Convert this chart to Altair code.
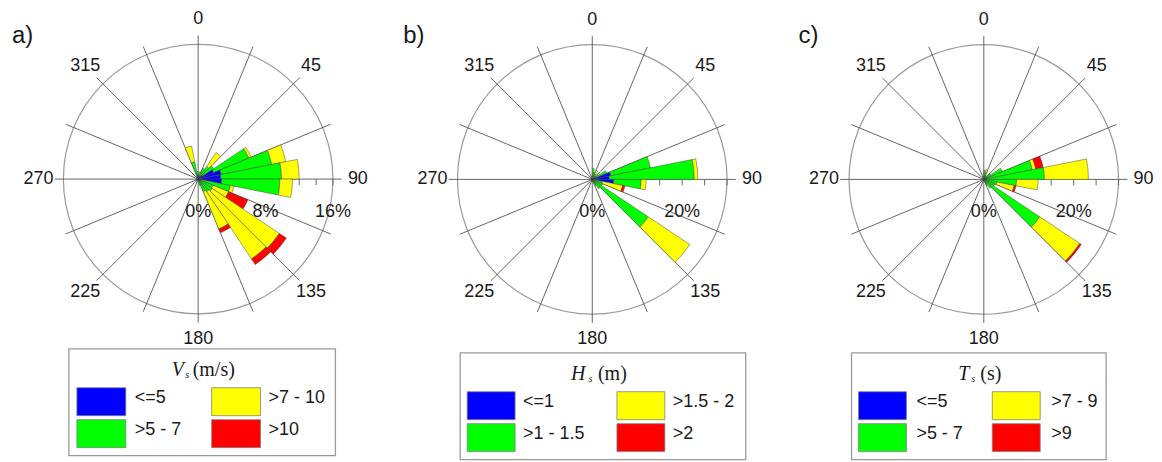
import math
import altair as alt
import pandas as pd

# ---------------- data ----------------
N_SECTORS = 32                      # 11.25 degree direction sectors
SECTOR_DEG = 360 / N_SECTORS
SPOKE_ANGLES = [i * 22.5 for i in range(16)]
DIR_LABELS = [0, 45, 90, 135, 180, 225, 270, 315]
COLORS = ["#0000ff", "#00ff00", "#ffff00", "#ff0000"]

# Panel a: wind speed Vs (m/s) - frequency (%) per sector, one list per class
a_classes = ["<=5", ">5 - 7", ">7 - 10", ">10"]
a_c1 = [0.1, 0.2, 0.3, 0.4, 0.6, 2.0, 2.8, 2.7, 2.8, 0.4, 0.3, 0.3, 0.3, 0.2, 0.2, 0.1,
        0.1, 0.1, 0.1, 0.1, 0.1, 0.1, 0.1, 0.1, 0.1, 0.1, 0.1, 0.1, 0.1, 0.1, 0.4, 0.5]
a_c2 = [0.2, 0.7, 1.1, 1.4, 1.6, 4.5, 6.1, 7.2, 6.9, 3.5, 1.6, 1.7, 1.5, 1.4, 0.6, 0.2,
        0.1, 0.1, 0.1, 0.1, 0.1, 0.1, 0.1, 0.1, 0.1, 0.1, 0.1, 0.1, 0.1, 0.1, 1.7, 0.4]
a_c3 = [0.0, 0.0, 0.0, 2.0, 0.0, 0.3, 1.7, 2.1, 1.5, 0.4, 2.0, 9.6, 9.6, 4.8, 0.0, 0.0,
        0.0, 0.0, 0.0, 0.0, 0.0, 0.0, 0.0, 0.0, 0.0, 0.0, 0.0, 0.0, 0.0, 0.0, 1.9, 0.0]
a_c4 = [0.0, 0.0, 0.0, 0.0, 0.0, 0.0, 0.0, 0.0, 0.0, 0.0, 2.5, 1.0, 0.8, 0.5, 0.0, 0.0,
        0.0, 0.0, 0.0, 0.0, 0.0, 0.0, 0.0, 0.0, 0.0, 0.0, 0.0, 0.0, 0.0, 0.0, 0.0, 0.0]
a_ticks = [2, 4, 6, 8, 10, 12, 14, 16]
a_pct = [0, 8, 16]
a_pct_text = ["0%", "8%", "16%"]

# Panel b: wave height Hs (m)
b_classes = ["<=1", ">1 - 1.5", ">1.5 - 2", ">2"]
b_c1 = [0.3, 0.3, 0.3, 0.2, 0.3, 0.8, 4.2, 3.8, 4.8, 0.5, 0.4, 0.5, 0.3, 0.2, 0.2, 0.1,
        0.1, 0.1, 0.1, 0.1, 0.1, 0.1, 0.1, 0.1, 0.1, 0.1, 0.1, 0.1, 0.1, 0.1, 0.2, 0.2]
b_c2 = [2.1, 1.3, 1.0, 0.6, 1.2, 2.7, 9.0, 18.9, 6.1, 1.8, 2.1, 14.5, 2.2, 1.3, 0.4, 0.2,
        0.1, 0.1, 0.1, 0.1, 0.1, 0.1, 0.1, 0.1, 0.1, 0.1, 0.1, 0.1, 0.1, 0.1, 0.3, 0.6]
b_c3 = [0.0, 0.0, 0.9, 0.0, 0.0, 0.0, 0.0, 0.8, 1.1, 4.6, 0.0, 11.1, 0.0, 0.0, 0.0, 0.0,
        0.0, 0.0, 0.0, 0.0, 0.0, 0.0, 0.0, 0.0, 0.0, 0.0, 0.0, 0.0, 0.0, 0.0, 0.0, 0.0]
b_c4 = [0.0, 0.0, 0.0, 0.0, 0.0, 0.0, 0.0, 0.0, 0.0, 0.5, 0.0, 0.0, 0.0, 0.0, 0.0, 0.0,
        0.0, 0.0, 0.0, 0.0, 0.0, 0.0, 0.0, 0.0, 0.0, 0.0, 0.0, 0.0, 0.0, 0.0, 0.0, 0.0]
b_ticks = [5, 10, 15, 20, 25, 30]
b_pct = [0, 20]
b_pct_text = ["0%", "20%"]

# Panel c: wave period Ts (s)
c_classes = ["<=5", ">5 - 7", ">7 - 9", ">9"]
c_c1 = [0.2, 0.2, 0.2, 0.2, 0.2, 0.4, 0.6, 0.6, 0.5, 0.3, 0.2, 0.4, 0.2, 0.2, 0.1, 0.1,
        0.05, 0.05, 0.05, 0.05, 0.05, 0.05, 0.05, 0.05, 0.05, 0.05, 0.05, 0.05, 0.05, 0.05, 0.1, 0.2]
c_c2 = [1.8, 1.3, 0.8, 0.6, 1.6, 4.1, 10.4, 12.9, 6.8, 2.7, 2.4, 14.6, 2.2, 1.3, 0.5, 0.2,
        0.15, 0.15, 0.15, 0.15, 0.15, 0.15, 0.15, 0.15, 0.15, 0.15, 0.15, 0.15, 0.15, 0.15, 0.4, 0.6]
c_c3 = [0.0, 0.7, 0.0, 0.0, 0.0, 0.0, 0.8, 9.8, 4.8, 3.9, 0.0, 10.7, 0.0, 0.0, 0.0, 0.0,
        0.0, 0.0, 0.0, 0.0, 0.0, 0.0, 0.0, 0.0, 0.0, 0.0, 0.0, 0.0, 0.0, 0.0, 0.0, 0.0]
c_c4 = [0.0, 0.0, 0.0, 0.0, 0.0, 0.0, 1.7, 0.0, 0.0, 0.4, 0.0, 0.4, 0.0, 0.0, 0.0, 0.0,
        0.0, 0.0, 0.0, 0.0, 0.0, 0.0, 0.0, 0.0, 0.0, 0.0, 0.0, 0.0, 0.0, 0.0, 0.0, 0.0]
c_ticks = [5, 10, 15, 20, 25, 30]
c_pct = [0, 20]
c_pct_text = ["0%", "20%"]

# ---------------- layout / style ----------------
SANS = "Liberation Sans"
SERIF = "Liberation Serif"
TXT = "#1a1a1a"
H = 452
R_PX = 135

LAYOUT = {
    "a": dict(W=394, cx=190.5, cy=171.0, rmax=16, label="a)", label_x=4,
              title=("V", "(m/s)"), title_x=(164, 177.5, 185), title_y=368,
              box=(61, 341, 328, 448), sw_x=(69, 204), sw_y=(380, 412), sw_w=49, sw_h=28,
              lab_x=(127, 261)),
    "b": dict(W=394, cx=191.3, cy=171.3, rmax=30, label="b)", label_x=2,
              title=("H", "(m)"), title_x=(170, 187.5, 197), title_y=372,
              box=(59, 345, 345, 452), sw_x=(66, 216), sw_y=(384, 416), sw_w=48, sw_h=28,
              lab_x=(122, 272)),
    "c": dict(W=358, cx=189.5, cy=171.3, rmax=30, label="c)", label_x=4,
              title=("T", "(s)"), title_x=(164, 177, 186), title_y=372,
              box=(57, 345, 312, 452), sw_x=(64, 198), sw_y=(384, 416), sw_w=48, sw_h=28,
              lab_x=(122, 257)),
}

fill_scale = alt.Scale(domain=[0, 1, 2, 3], range=COLORS)


def build_panel(key, series, classes, ticks, pct_vals, pct_text):
    L = LAYOUT[key]
    W, rmax = L["W"], L["rmax"]
    ppu = R_PX / rmax
    xs = alt.Scale(domain=[-L["cx"] / ppu, (W - L["cx"]) / ppu], nice=False, zero=False)
    ys = alt.Scale(domain=[-(H - L["cy"]) / ppu, L["cy"] / ppu], nice=False, zero=False)
    ts = alt.Scale(domain=[0, 360], range=[0, 2 * math.pi])
    rs = alt.Scale(type="linear", domain=[0, rmax], range=[0, R_PX], zero=True, nice=False)

    X0 = alt.X("zero:Q", scale=xs, axis=None)
    Y0 = alt.Y("zero:Q", scale=ys, axis=None)

    # stacked sector table
    rows = []
    for k in range(N_SECTORS):
        cum = 0.0
        for c, s in enumerate(series):
            v = s[k]
            if v > 0:
                rows.append(dict(t0=k * SECTOR_DEG, t1=(k + 1) * SECTOR_DEG,
                                 r0=cum, r1=cum + v, cls=c, zero=0))
                cum += v
    bars_df = pd.DataFrame(rows)

    arc_enc = dict(
        x=X0, y=Y0,
        theta=alt.Theta("t0:Q", scale=ts, stack=False),
        theta2="t1:Q",
        radius=alt.Radius("r1:Q", scale=rs, stack=False),
        radius2="r0:Q",
    )

    circle = alt.Chart(pd.DataFrame([dict(t0=0, t1=360, r0=0, r1=rmax, zero=0)])).mark_arc(
        fill="white", stroke="#9a9a9a", strokeWidth=1.2).encode(**arc_enc)

    spoke_len = rmax * 1.065
    spokes = alt.Chart(pd.DataFrame({"a": SPOKE_ANGLES, "zero": 0})).transform_calculate(
        ex=f"{spoke_len}*sin(datum.a*PI/180)", ey=f"{spoke_len}*cos(datum.a*PI/180)"
    ).mark_rule(color="#555555", strokeWidth=0.9).encode(x=X0, y=Y0, x2="ex:Q", y2="ey:Q")

    tick_layer = alt.Chart(pd.DataFrame({"t": ticks, "zero": 0})).mark_rule(
        color="#666666", strokeWidth=1, y2Offset=6).encode(
        x=alt.X("t:Q", scale=xs, axis=None), y=Y0, y2="zero:Q")

    bars = alt.Chart(bars_df).mark_arc(stroke="#444444", strokeWidth=0.5).encode(
        fill=alt.Fill("cls:N", scale=fill_scale, legend=None), **arc_enc)

    pct = alt.Chart(pd.DataFrame({"v": pct_vals, "lab": pct_text, "zero": 0})).mark_text(
        dy=33, fontSize=18, font=SANS, color=TXT).encode(
        x=alt.X("v:Q", scale=xs, axis=None), y=Y0, text="lab:N")

    lab_r = rmax * 1.185
    dirs = alt.Chart(pd.DataFrame({"a": DIR_LABELS, "lab": [str(d) for d in DIR_LABELS]})).transform_calculate(
        lx=f"{lab_r}*sin(datum.a*PI/180)", ly=f"{lab_r}*cos(datum.a*PI/180)"
    ).mark_text(fontSize=18, font=SANS, color=TXT, baseline="middle").encode(
        x=alt.X("lx:Q", scale=xs, axis=None), y=alt.Y("ly:Q", scale=ys, axis=None), text="lab:N")

    rose = alt.layer(circle, spokes, tick_layer, bars, pct, dirs)

    # ----- overlay in panel pixel frame: legend + panel label -----
    pxs = alt.Scale(domain=[0, W], nice=False, zero=False)
    pys = alt.Scale(domain=[0, H], reverse=True, nice=False, zero=False)
    PX = lambda f: alt.X(f, scale=pxs, axis=None)
    PY = lambda f: alt.Y(f, scale=pys, axis=None)

    bx0, by0, bx1, by1 = L["box"]
    frame = alt.Chart(pd.DataFrame([dict(x0=bx0, y0=by0, x1=bx1, y1=by1)])).mark_rect(
        fill="white", stroke="#9a9a9a", strokeWidth=1.3).encode(
        x=PX("x0:Q"), x2="x1:Q", y=PY("y0:Q"), y2="y1:Q")

    leg_rows = []
    for i, name in enumerate(classes):
        col, row = i // 2, i % 2
        sx, sy = L["sw_x"][col], L["sw_y"][row]
        leg_rows.append(dict(cls=i, name=name, sx=sx, sx2=sx + L["sw_w"], sy=sy,
                             sy2=sy + L["sw_h"], lx=L["lab_x"][col], ly=sy + 10))
    leg_df = pd.DataFrame(leg_rows)
    swatches = alt.Chart(leg_df).mark_rect(stroke="#808080", strokeWidth=0.8).encode(
        x=PX("sx:Q"), x2="sx2:Q", y=PY("sy:Q"), y2="sy2:Q",
        fill=alt.Fill("cls:N", scale=fill_scale, legend=None))
    leg_labels = alt.Chart(leg_df).mark_text(
        align="left", baseline="middle", fontSize=18, font=SANS, color=TXT).encode(
        x=PX("lx:Q"), y=PY("ly:Q"), text="name:N")

    t_main, t_unit = L["title"]
    tx = L["title_x"]
    ty = L["title_y"]
    tdf = pd.DataFrame([dict(main=t_main, sub="s", unit=t_unit,
                             x1=tx[0], x2=tx[1], x3=tx[2], y=ty, ys=ty + 2)])
    title_main = alt.Chart(tdf).mark_text(
        align="left", baseline="alphabetic", fontSize=20, font=SERIF, fontStyle="italic",
        color=TXT).encode(x=PX("x1:Q"), y=PY("y:Q"), text="main:N")
    title_sub = alt.Chart(tdf).mark_text(
        align="left", baseline="alphabetic", fontSize=10, font=SERIF, fontStyle="italic",
        color=TXT).encode(x=PX("x2:Q"), y=PY("ys:Q"), text="sub:N")
    title_unit = alt.Chart(tdf).mark_text(
        align="left", baseline="alphabetic", fontSize=20, font=SERIF,
        color=TXT).encode(x=PX("x3:Q"), y=PY("y:Q"), text="unit:N")

    plabel = alt.Chart(pd.DataFrame([dict(t=L["label"], x=L["label_x"], y=28)])).mark_text(
        align="left", baseline="middle", fontSize=24, font=SANS, color=TXT).encode(
        x=PX("x:Q"), y=PY("y:Q"), text="t:N")

    overlay = alt.layer(frame, swatches, leg_labels, title_main, title_sub, title_unit, plabel)

    return alt.layer(rose, overlay).resolve_scale(x="independent", y="independent").properties(
        width=W, height=H)


pa = build_panel("a", [a_c1, a_c2, a_c3, a_c4], a_classes, a_ticks, a_pct, a_pct_text)
pb = build_panel("b", [b_c1, b_c2, b_c3, b_c4], b_classes, b_ticks, b_pct, b_pct_text)
pc = build_panel("c", [c_c1, c_c2, c_c3, c_c4], c_classes, c_ticks, c_pct, c_pct_text)

chart = alt.hconcat(pa, pb, pc, spacing=0, bounds="flush").properties(
    padding=0, background="white").configure_view(stroke=None)

chart.save("out.html", embed_options={"renderer": "svg", "actions": False})
